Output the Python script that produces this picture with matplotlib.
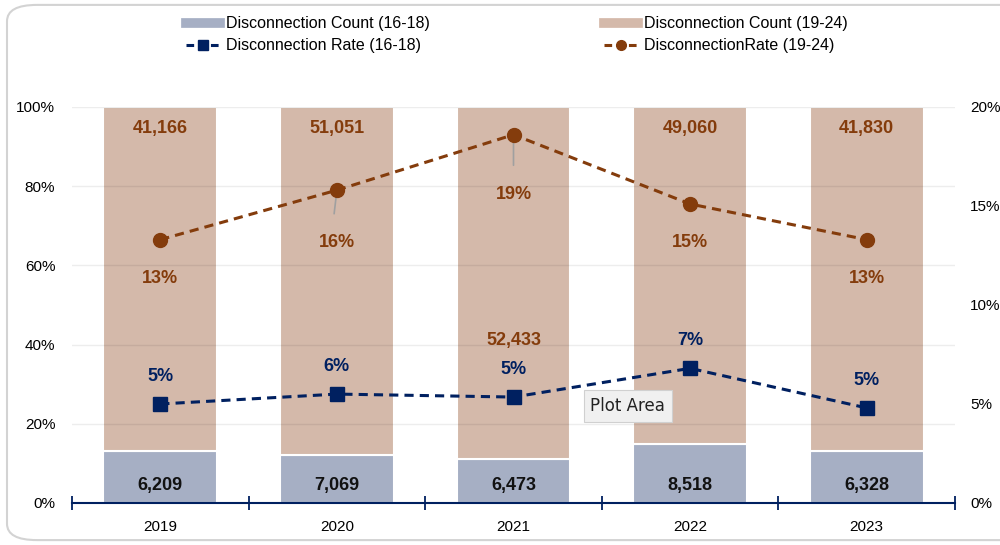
import matplotlib.pyplot as plt
import numpy as np
from matplotlib.lines import Line2D
from matplotlib.patches import FancyBboxPatch

# dados
anos = ['2019', '2020', '2021', '2022', '2023']
cont_16_18 = [6209, 7069, 6473, 8518, 6328]
cont_19_24 = [41166, 51051, 52433, 49060, 41830]
taxa_16_18 = [0.050, 0.055, 0.0535, 0.068, 0.048]
taxa_19_24 = [0.133, 0.158, 0.186, 0.151, 0.133]

cor_azul_bar = '#A6AFC4'
cor_marrom_bar = '#D4B9AA'
cor_marrom = '#843C0C'
cor_azul = '#002060'

plt.rcParams['font.family'] = ['Liberation Sans', 'DejaVu Sans']

fig = plt.figure(figsize=(10, 5.45), dpi=100)
fig.patches.append(FancyBboxPatch((0.007, 0.009), 1.2, 0.982, boxstyle='round,pad=0,rounding_size=0.03',
                                  transform=fig.transFigure, facecolor='white', edgecolor='#D3D3D3',
                                  linewidth=1.5, zorder=-10))

ax = fig.add_axes([0.072, 0.0771, 0.883, 0.7266])
ax.patch.set_alpha(0)

x = np.arange(len(anos))
c1 = np.array(cont_16_18)
c2 = np.array(cont_19_24)
total = c1 + c2
p1 = c1 / total
p2 = c2 / total

ax.bar(x, p1, width=0.645, color=cor_azul_bar, edgecolor='white', linewidth=1.5, zorder=1)
ax.bar(x, p2, bottom=p1, width=0.645, color=cor_marrom_bar, edgecolor='white', linewidth=1.5, zorder=1)

# linhas de grade por cima, bem suaves
for g in [0.2, 0.4, 0.6, 0.8, 1.0]:
    ax.axhline(g, color=(0, 0, 0, 0.07), linewidth=1, zorder=2)

for i in range(len(anos)):
    ax.text(x[i], 0.045, f'{cont_16_18[i]:,}', ha='center', va='center', fontsize=13,
            fontweight='bold', color='#111111', zorder=3)
    ypos = 0.41 if i == 2 else 0.945
    ax.text(x[i], ypos, f'{cont_19_24[i]:,}', ha='center', va='center', fontsize=13,
            fontweight='bold', color=cor_marrom, zorder=3)

ax.set_xlim(-0.5, 4.5)
ax.set_ylim(0, 1)
ax.set_yticks([0, 0.2, 0.4, 0.6, 0.8, 1.0])
ax.set_yticklabels(['0%', '20%', '40%', '60%', '80%', '100%'])
ax.set_xticks(x)
ax.set_xticklabels(anos)
ax.set_xticks(np.arange(-0.5, 5, 1), minor=True)
ax.tick_params(axis='x', which='major', length=0, pad=12, labelsize=11)
ax.tick_params(axis='x', which='minor', length=10, direction='inout', color=cor_azul, width=1.3)
ax.tick_params(axis='y', length=0, pad=12, labelsize=11)
for s in ['top', 'right', 'left']:
    ax.spines[s].set_visible(False)
ax.spines['bottom'].set_color(cor_azul)
ax.spines['bottom'].set_linewidth(1.5)
ax.spines['bottom'].set_zorder(5)

ax2 = ax.twinx()
ax2.set_ylim(0, 0.2)
ax2.set_yticks([0, 0.05, 0.10, 0.15, 0.20])
ax2.set_yticklabels(['0%', '5%', '10%', '15%', '20%'])
ax2.tick_params(axis='y', length=0, pad=11, labelsize=11)
for s in ['top', 'right', 'left', 'bottom']:
    ax2.spines[s].set_visible(False)

ax2.plot(x, taxa_19_24, color=cor_marrom, linestyle=(0, (3, 2)), linewidth=2.2,
         marker='o', markersize=10, zorder=4)
ax2.plot(x, taxa_16_18, color=cor_azul, linestyle=(0, (3, 2)), linewidth=2.2,
         marker='s', markersize=9.5, zorder=4)

# rotulos das taxas 19-24 (abaixo do ponto)
desloc_19 = [-28, -38, -43, -28, -28]
for i in range(len(anos)):
    ax2.annotate(f'{round(taxa_19_24[i]*100):.0f}%', (x[i], taxa_19_24[i]), xytext=(0, desloc_19[i]),
                 textcoords='offset points', ha='center', va='center', fontsize=13,
                 fontweight='bold', color=cor_marrom, zorder=5)
# linhas guia
ax2.annotate('', (x[1], taxa_19_24[1]), xytext=(-2, -17), textcoords='offset points',
             arrowprops=dict(arrowstyle='-', color='#A0A0A0', lw=1.2, shrinkA=0, shrinkB=3))
ax2.annotate('', (x[2], taxa_19_24[2]), xytext=(0, -22), textcoords='offset points',
             arrowprops=dict(arrowstyle='-', color='#A0A0A0', lw=1.2, shrinkA=0, shrinkB=3))

# rotulos das taxas 16-18 (acima do ponto)
for i in range(len(anos)):
    ax2.annotate(f'{round(taxa_16_18[i]*100 + 1e-9):.0f}%', (x[i], taxa_16_18[i]), xytext=(0, 20),
                 textcoords='offset points', ha='center', va='center', fontsize=13,
                 fontweight='bold', color=cor_azul, zorder=5)

# caixa "Plot Area" (dica do Excel)
ax2.text(0.587, 0.245, 'Plot Area', transform=ax.transAxes, fontsize=12, family='DejaVu Sans',
         ha='left', va='center', color='#222222', zorder=10,
         bbox=dict(boxstyle='square,pad=0.4', facecolor='#F0F0F0', edgecolor='#D0D0D0', linewidth=0.8))

# legendas
h1 = [Line2D([], [], color=cor_azul_bar, linewidth=7),
      Line2D([], [], color=cor_azul, linestyle=(0, (2.5, 1.5)), linewidth=2.2, marker='s', markersize=7)]
h2 = [Line2D([], [], color=cor_marrom_bar, linewidth=7),
      Line2D([], [], color=cor_marrom, linestyle=(0, (2.5, 1.5)), linewidth=2.2, marker='o', markersize=7)]
l1 = fig.legend(h1, ['Disconnection Count (16-18)', 'Disconnection Rate (16-18)'], loc='upper left',
                bbox_to_anchor=(0.178, 0.985), frameon=False, fontsize=11.5, handlelength=2.1,
                handletextpad=0.4, labelspacing=0.45, borderpad=0)
l2 = fig.legend(h2, ['Disconnection Count (19-24)', 'DisconnectionRate (19-24)'], loc='upper left',
                bbox_to_anchor=(0.596, 0.985), frameon=False, fontsize=11.5, handlelength=2.1,
                handletextpad=0.4, labelspacing=0.45, borderpad=0)

fig.savefig('out.png', dpi=100)
